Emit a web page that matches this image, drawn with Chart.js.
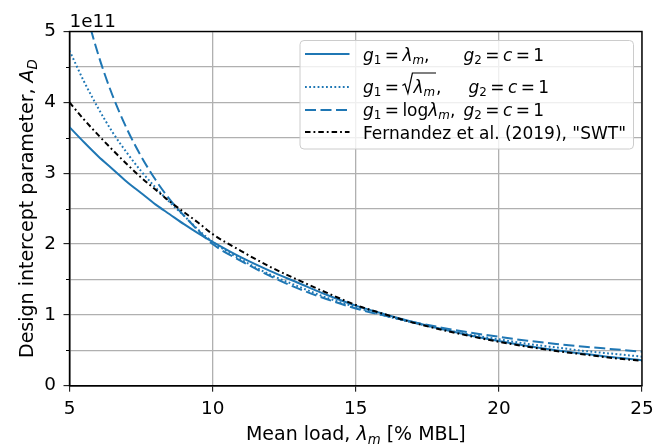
<!DOCTYPE html>
<html lang="en">
<head>
  <meta charset="UTF-8">
  <title>Design intercept parameter</title>
  <script src="https://cdn.jsdelivr.net/npm/chart.js"></script>
  <style>
    body { margin: 0; background: #fff; }
    #wrap { width: 668px; height: 445px; }
  </style>
</head>
<body>
  <div id="wrap"><canvas id="chart" width="668" height="445"></canvas></div>

  <script>
    // mean load, % MBL
    const lam = [5, 5.5, 6, 6.5, 7, 7.5, 8, 8.5, 9, 9.5, 10, 11, 12, 13, 14, 15, 16, 17, 18, 19, 20, 21, 22, 23, 24, 25];
    // A_D in units of 1e11
    const adLinear = [3.65, 3.44, 3.24, 3.06, 2.88, 2.72, 2.56, 2.42, 2.28, 2.15, 2.03, 1.81, 1.62, 1.45, 1.28, 1.13, 1.01, 0.90, 0.80, 0.71, 0.63, 0.56, 0.50, 0.45, 0.40, 0.36];
    const adSqrt = [4.73, 4.30, 3.92, 3.58, 3.29, 3.03, 2.80, 2.59, 2.40, 2.20, 2.03, 1.78, 1.57, 1.40, 1.24, 1.11, 0.99, 0.89, 0.80, 0.72, 0.655, 0.59, 0.54, 0.49, 0.45, 0.41];
    const adLog = [6.32, 5.41, 4.68, 4.10, 3.63, 3.24, 2.91, 2.63, 2.40, 2.19, 2.00, 1.76, 1.55, 1.37, 1.22, 1.09, 0.99, 0.90, 0.82, 0.75, 0.69, 0.635, 0.59, 0.55, 0.515, 0.48];
    const adSwt = [4.00, 3.76, 3.54, 3.33, 3.13, 2.94, 2.77, 2.60, 2.45, 2.30, 2.14, 1.90, 1.68, 1.49, 1.31, 1.14, 1.01, 0.89, 0.79, 0.70, 0.62, 0.55, 0.49, 0.44, 0.39, 0.35];

    const xTicks = [5, 10, 15, 20, 25];
    const yTicks = [0, 1, 2, 3, 4, 5];
    const offsetText = '1e11';

    // rich text pieces: n = normal, i = italic, s = subscript, si = italic subscript, sqrt = radical
    const xTitle = [['Mean load, ', 'n'], ['λ', 'i'], ['m', 'si'], [' [% MBL]', 'n']];
    const yTitle = [['Design intercept parameter, ', 'n'], ['A', 'i'], ['D', 'si']];
    const g2Part = [['g', 'i'], ['2', 's'], ['\u2009=\u2009', 'n'], ['c', 'i'], ['\u2009=\u20091', 'n']];
    const legendRows = [
      { left: [['g', 'i'], ['1', 's'], ['\u2009=\u2009', 'n'], ['λ', 'i'], ['m', 'si'], [',', 'n']], right: g2Part },
      { left: [['g', 'i'], ['1', 's'], ['\u2009=\u2009', 'n'], [[['λ', 'i'], ['m', 'si']], 'sqrt'], [',', 'n']], right: g2Part },
      { left: [['g', 'i'], ['1', 's'], ['\u2009=\u2009', 'n'], ['log', 'n'], ['λ', 'i'], ['m', 'si'], [',', 'n']], right: g2Part },
      { left: [['Fernandez et al. (2019), "SWT"', 'n']], right: null }
    ];

    const BLUE = '#1f77b4';
    const FONT = 'DejaVu Sans';
    const FS_TICK = 18.4;
    const FS_TITLE = 19;
    const FS_LEG = 17;

    function setFont(ctx, kind, size) {
      const italic = kind === 'i' || kind === 'si';
      const sub = kind === 's' || kind === 'si';
      ctx.font = (italic ? 'italic ' : '') + (sub ? size * 0.7 : size) + 'px "' + FONT + '"';
    }

    function richWidth(ctx, parts, size) {
      let w = 0;
      parts.forEach(([t, k]) => {
        if (k === 'sqrt') { w += 11 + richWidth(ctx, t, size) + 1; return; }
        setFont(ctx, k, size);
        w += ctx.measureText(t).width;
      });
      return w;
    }

    function drawRich(ctx, parts, x, y, size) {
      parts.forEach(([t, k]) => {
        if (k === 'sqrt') {
          const innerW = richWidth(ctx, t, size);
          ctx.save();
          ctx.lineWidth = 1.2;
          ctx.strokeStyle = '#000';
          ctx.beginPath();
          ctx.moveTo(x, y - 7);
          ctx.lineTo(x + 2.5, y - 8.5);
          ctx.lineTo(x + 5.5, y + 1);
          ctx.lineTo(x + 10, y - 19.5);
          ctx.lineTo(x + 11 + innerW + 1, y - 19.5);
          ctx.stroke();
          ctx.restore();
          x = drawRich(ctx, t, x + 11, y, size) + 1;
          return;
        }
        setFont(ctx, k, size);
        const dy = (k === 's' || k === 'si') ? size * 0.22 : 0;
        ctx.fillText(t, x, y + dy);
        x += ctx.measureText(t).width;
      });
      return x;
    }

    const decor = {
      id: 'decor',
      afterDatasetsDraw(chart) {
        const ctx = chart.ctx;
        const a = chart.chartArea;
        const ys = chart.scales.y;
        ctx.save();
        ctx.strokeStyle = '#000';
        ctx.lineWidth = 1.4;
        ctx.strokeRect(a.left, a.top, a.right - a.left, a.bottom - a.top);
        // minor ticks on the y axis
        ctx.lineWidth = 1;
        ys.ticks.forEach(t => {
          if (Number.isInteger(t.value)) return;
          const py = Math.round(ys.getPixelForValue(t.value)) + 0.5;
          ctx.beginPath();
          ctx.moveTo(a.left - 3.5, py);
          ctx.lineTo(a.left, py);
          ctx.stroke();
        });
        ctx.restore();
      },
      afterDraw(chart) {
        const ctx = chart.ctx;
        const a = chart.chartArea;
        ctx.save();
        ctx.fillStyle = '#000';
        ctx.textBaseline = 'alphabetic';
        ctx.textAlign = 'left';

        // offset text
        ctx.font = FS_TICK + 'px "' + FONT + '"';
        ctx.fillText(offsetText, a.left, 26.5);

        // x title
        const cx = (a.left + a.right) / 2;
        const xw = richWidth(ctx, xTitle, FS_TITLE);
        drawRich(ctx, xTitle, cx - xw / 2, 439.5, FS_TITLE);

        // y title
        const cy = (a.top + a.bottom) / 2;
        ctx.save();
        ctx.translate(33, cy);
        ctx.rotate(-Math.PI / 2);
        const yw = richWidth(ctx, yTitle, FS_TITLE);
        drawRich(ctx, yTitle, -yw / 2, 0, FS_TITLE);
        ctx.restore();

        // legend
        const lx = 300, ly = 40.5, lw = 333.5, lh = 108.5;
        ctx.beginPath();
        ctx.roundRect(lx, ly, lw, lh, 4);
        ctx.fillStyle = 'rgba(255,255,255,0.8)';
        ctx.fill();
        ctx.strokeStyle = '#cccccc';
        ctx.lineWidth = 1;
        ctx.stroke();

        const rowLine = [54, 87, 110, 132];
        const rowBase = [60.5, 92.5, 115.5, 139];
        const rightX = [463.5, 468.5, 463.5];
        chart.data.datasets.forEach((ds, i) => {
          ctx.save();
          ctx.strokeStyle = ds.borderColor;
          ctx.lineWidth = ds.borderWidth;
          ctx.setLineDash(ds.borderDash || []);
          ctx.beginPath();
          ctx.moveTo(305, rowLine[i]);
          ctx.lineTo(349.5, rowLine[i]);
          ctx.stroke();
          ctx.restore();
          ctx.fillStyle = '#000';
          const row = legendRows[i];
          drawRich(ctx, row.left, 363, rowBase[i], FS_LEG);
          if (row.right) drawRich(ctx, row.right, rightX[i], rowBase[i], FS_LEG);
        });
        ctx.restore();
      }
    };

    const toXY = vals => lam.map((x, i) => ({ x: x, y: vals[i] }));

    Chart.defaults.font.family = FONT;
    Chart.defaults.font.size = FS_TICK;
    Chart.defaults.color = '#000';

    new Chart(document.getElementById('chart'), {
      type: 'line',
      data: {
        datasets: [
          { data: toXY(adLinear), borderColor: BLUE, borderWidth: 2, order: 4 },
          { data: toXY(adSqrt), borderColor: BLUE, borderWidth: 2, borderDash: [1.8, 2.4], order: 3 },
          { data: toXY(adLog), borderColor: BLUE, borderWidth: 2, borderDash: [11, 4.5], order: 2 },
          { data: toXY(adSwt), borderColor: '#000', borderWidth: 2, borderDash: [5.5, 3, 1.8, 3], order: 1 }
        ]
      },
      options: {
        responsive: false,
        animation: false,
        events: [],
        layout: { padding: { top: 31.5, right: 26, left: 0, bottom: 0 } },
        elements: {
          point: { radius: 0 },
          line: { cubicInterpolationMode: 'monotone', fill: false, borderCapStyle: 'butt' }
        },
        plugins: { legend: { display: false }, tooltip: { enabled: false } },
        scales: {
          x: {
            type: 'linear',
            min: xTicks[0],
            max: xTicks[xTicks.length - 1],
            afterBuildTicks: s => { s.ticks = xTicks.map(v => ({ value: v })); },
            afterFit: s => { s.height = 59.3; },
            ticks: { padding: 6.5, autoSkip: false, maxRotation: 0, callback: v => String(v) },
            grid: { color: '#b0b0b0', lineWidth: 1.3, tickColor: '#000', tickLength: 6, tickWidth: 1 },
            border: { color: '#000', width: 1.4 }
          },
          y: {
            min: yTicks[0],
            max: yTicks[yTicks.length - 1],
            ticks: {
              stepSize: 0.5,
              padding: 7.5,
              autoSkip: false,
              callback: v => yTicks.includes(v) ? String(v) : ''
            },
            afterFit: s => { s.width = 69.5; },
            grid: {
              color: '#b0b0b0',
              lineWidth: 1.3,
              tickLength: 6,
              tickWidth: 1,
              tickColor: c => Number.isInteger(c.tick.value) ? '#000' : 'rgba(0,0,0,0)'
            },
            border: { color: '#000', width: 1.4 }
          }
        }
      },
      plugins: [decor]
    });
  </script>
</body>
</html>
